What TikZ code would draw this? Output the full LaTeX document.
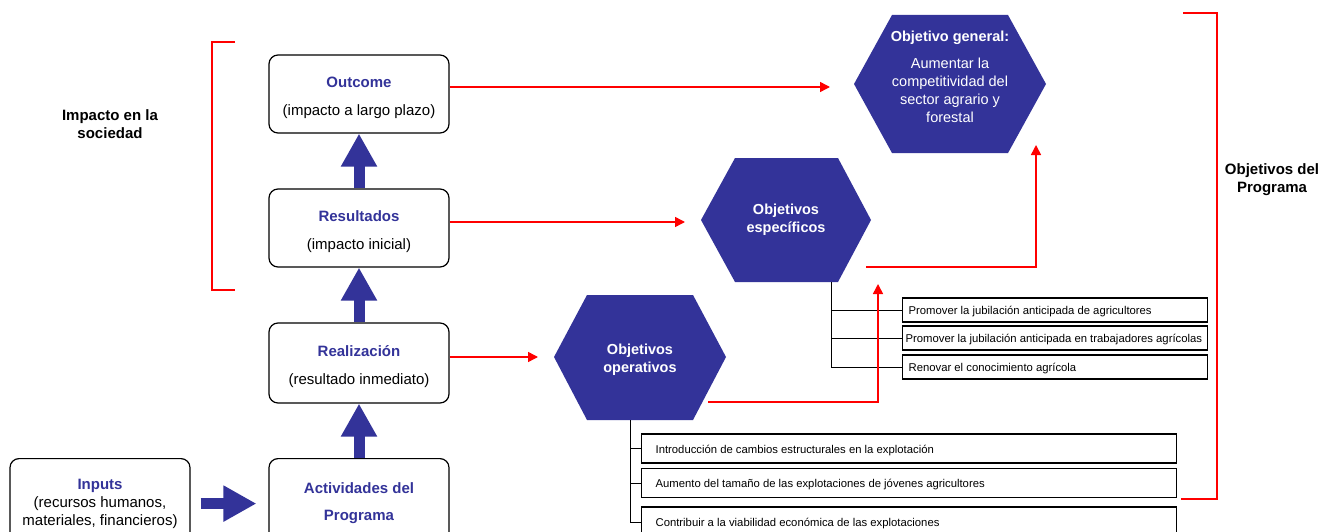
\documentclass[tikz,border=0pt]{standalone}
\usepackage{fontspec}
\setmainfont{Liberation Sans}
\usetikzlibrary{arrows.meta,positioning}
\definecolor{azul}{RGB}{51,51,153}
\definecolor{rojo}{RGB}{255,0,0}
\tikzset{
  caja/.style={draw, line width=1.2pt, rounded corners=9pt, fill=white,
    minimum width=180pt, align=center, font=\fontsize{15}{18}\selectfont},
  meta/.style={draw, line width=1.2pt, fill=white, anchor=west,
    minimum height=24pt, inner ysep=0pt, inner xsep=6pt,
    text height=11pt, text depth=2pt,
    font=\fontsize{11.3}{13}\selectfont},
  hexto/.style={text=white, align=center, font=\fontsize{14.5}{18}\selectfont},
  flecha/.style={draw=azul, line width=11pt, -{Triangle[width=34pt,length=33pt]}},
  rojoflecha/.style={draw=rojo, line width=1.5pt, -{Triangle[width=10pt,length=10pt]}},
  rama/.style={draw=black, line width=1pt},
}
\begin{document}
\begin{tikzpicture}[x=1pt,y=-1pt]
\clip (0,0) rectangle (1322,532);
\fill[white] (0,0) rectangle (1322,532);

% cajas de la izquierda
\node[caja, minimum height=78pt] (outcome) at (359,94) {\mbox{}\\\textbf{\color{azul}Outcome}\\[10pt](impacto a largo plazo)};
\node[caja, minimum height=78pt] (resultados) at (359,228) {\mbox{}\\\textbf{\color{azul}Resultados}\\[10pt](impacto inicial)};
\node[caja, minimum height=80pt] (realizacion) at (359,363) {\mbox{}\\\textbf{\color{azul}Realización}\\[10pt](resultado inmediato)};
\node[caja, minimum height=90pt, anchor=north] (actividades) at (359,458) {\textbf{\color{azul}Actividades del}\\[9pt]\textbf{\color{azul}Programa}};
\node[caja, minimum height=90pt, anchor=north] (inputs) at (100,458) {\textbf{\color{azul}Inputs}\\(recursos humanos,\\materiales, financieros)};

\draw[flecha] (resultados.north) -- (outcome.south);
\draw[flecha] (realizacion.north) -- (resultados.south);
\draw[flecha] (actividades.north) -- (realizacion.south);
\draw[flecha, shorten <=10pt, shorten >=12pt] (inputs.east) -- (actividades.west);

\node[font=\fontsize{15}{18}\selectfont\bfseries, align=center] (impacto) at (110,124) {Impacto en la\\sociedad};

% hexagonos
\fill[azul] (854,84) -- (892,15) -- (1008,15) -- (1046,84) -- (1008,153) -- (892,153) -- cycle;
\fill[azul] (701,220) -- (735,158) -- (838,158) -- (871,220) -- (838,282) -- (735,282) -- cycle;
\fill[azul] (554,357) -- (587,295) -- (693,295) -- (726,357) -- (693,420) -- (587,420) -- cycle;
\node[hexto] (general) at (950,77) {\textbf{Objetivo general:}\\[9pt]Aumentar la\\competitividad del\\sector agrario y\\forestal};
\node[hexto] (especificos) at (786,220) {\textbf{Objetivos}\\\textbf{específicos}};
\node[hexto] (operativos) at (640,360) {\textbf{Objetivos}\\\textbf{operativos}};

\coordinate (genin) at (830,87);
\coordinate (espin) at (685,222);
\coordinate (opin) at (538,357);
\coordinate (espout) at (866,267);
\coordinate (genfoot) at (1036,145);
\coordinate (opout) at (708,402);
\coordinate (espfoot) at (878,284);
\coordinate (espbase) at (831,282);
\coordinate (opbase) at (630,420);

% medidas
\node[meta] (m1) at (902,310) {\makebox[293pt][l]{Promover la jubilación anticipada de agricultores}};
\node[meta, inner xsep=3pt] (m2) at (902,338) {\makebox[299pt][l]{Promover la jubilación anticipada en trabajadores agrícolas}};
\node[meta] (m3) at (902,367) {\makebox[293pt][l]{Renovar el conocimiento agrícola}};
\node[meta, inner xsep=14pt, minimum height=29pt] (o1) at (641,448.5) {\makebox[507pt][l]{Introducción de cambios estructurales en la explotación}};
\node[meta, inner xsep=14pt, minimum height=29pt] (o2) at (641,483) {\makebox[507pt][l]{Aumento del tamaño de las explotaciones de jóvenes agricultores}};
\node[meta, inner xsep=14pt, minimum height=30pt] (o3) at (641,522) {\makebox[507pt][l]{Contribuir a la viabilidad económica de las explotaciones}};

\draw[rama] (espbase) |- (m1.west);
\draw[rama] (espbase) |- (m2.west);
\draw[rama] (espbase) |- (m3.west);
\draw[rama] (opbase) |- (o1.west);
\draw[rama] (opbase) |- (o2.west);
\draw[rama] (opbase) |- (o3.west);

% flechas rojas
\draw[rojoflecha] (outcome.east |- genin) -- (genin);
\draw[rojoflecha] (resultados.east |- espin) -- (espin);
\draw[rojoflecha] (realizacion.east |- opin) -- (opin);
\draw[rojoflecha] (espout) -| (genfoot);
\draw[rojoflecha] (opout) -| (espfoot);

% llaves
\draw[rojo, line width=1.5pt] (235,42) -- (212,42) -- (212,290) -- (235,290);
\draw[rojo, line width=1.5pt] (1183,13) -- (1217,13) -- (1217,499) -- (1181,499);
\node[font=\fontsize{15}{18}\selectfont\bfseries, align=center] (programa) at (1272,180) {Objetivos del\\Programa};
\end{tikzpicture}
\end{document}
